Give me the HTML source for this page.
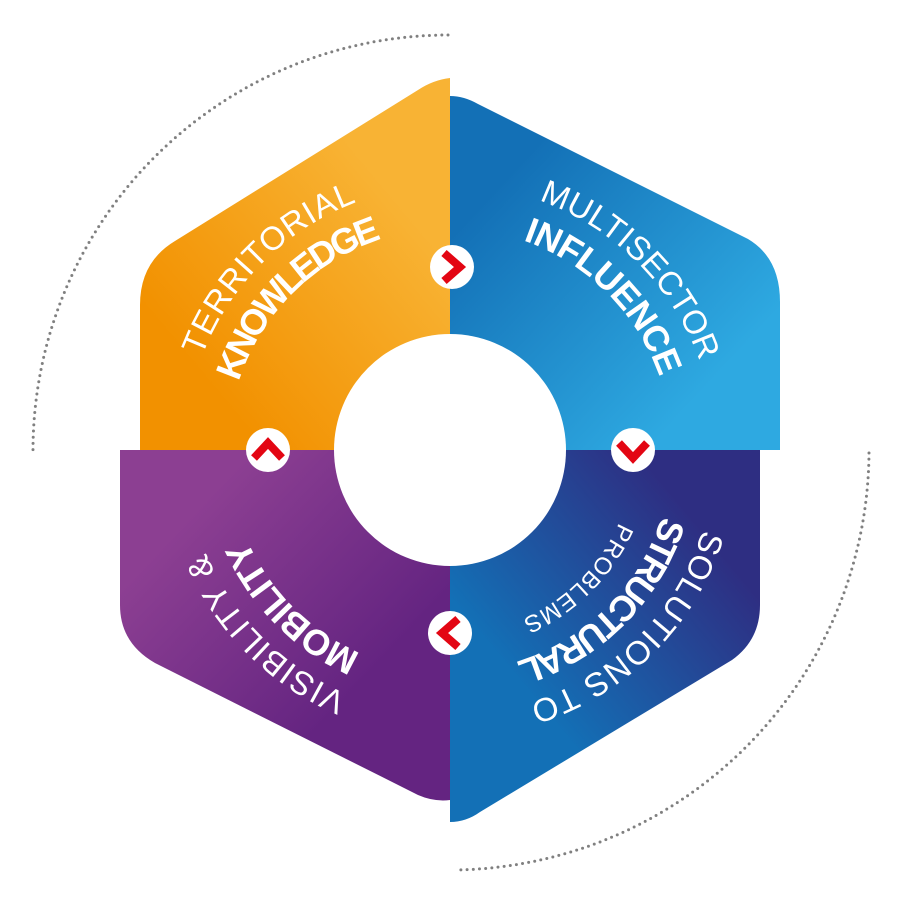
<!DOCTYPE html>
<html><head><meta charset="utf-8"><style>
html,body{margin:0;padding:0;background:#fff;width:900px;height:900px;overflow:hidden}
text{font-family:"Liberation Sans",sans-serif;fill:#fff}
.l{font-size:33px;font-weight:normal}
.b{font-size:36px;font-weight:bold}
.s{font-size:24px}
</style></head><body>
<svg width="900" height="900" viewBox="0 0 900 900" xmlns="http://www.w3.org/2000/svg">
<defs>
<linearGradient id="go" x1="0" y1="1" x2="1" y2="0"><stop offset="0.2" stop-color="#f29100"/><stop offset="0.75" stop-color="#f8b334"/></linearGradient>
<linearGradient id="gb" x1="0" y1="0" x2="1" y2="1"><stop offset="0.2" stop-color="#1370b6"/><stop offset="0.8" stop-color="#2ea9e1"/></linearGradient>
<linearGradient id="gd" x1="0" y1="1" x2="1" y2="0"><stop offset="0.3" stop-color="#1370b6"/><stop offset="0.8" stop-color="#2e2e82"/></linearGradient>
<linearGradient id="gp" x1="0" y1="0" x2="1" y2="1"><stop offset="0.2" stop-color="#8c3f92"/><stop offset="0.7" stop-color="#642481"/></linearGradient>
<path id="a1o" d="M262.6,637.4 A265,265 0 0 1 637.4,262.6"/>
<path id="a1i" d="M293,607 A222,222 0 0 1 607,293"/>
<path id="a2o" d="M262.6,262.6 A265,265 0 0 1 637.4,637.4"/>
<path id="a2i" d="M293,293 A222,222 0 0 1 607,607"/>
<path id="a3o" d="M637.4,262.6 A265,265 0 0 1 262.6,637.4"/>
<path id="a3i" d="M607,293 A222,222 0 0 1 293,607"/>
<path id="a3p" d="M582.9,317.1 A188,188 0 0 1 317.1,582.9"/>
<path id="a4o" d="M637.4,637.4 A265,265 0 0 1 262.6,262.6"/>
<path id="a4i" d="M607,607 A222,222 0 0 1 293,293"/>
</defs>
<g fill="none" stroke="#808080" stroke-width="3" stroke-linecap="round" stroke-dasharray="0 6.2">
<path d="M448,35 A416,416 0 0 0 33,455"/>
<path d="M869,453 A420,420 0 0 1 455,870"/>
</g>
<path d="M450,78 L450,450 L140,450 L140,305 Q140,262 175,241 L418,90 Q433,80 450,78 Z" fill="url(#go)"/>
<path d="M450,96 Q464,96 478,104 L748,239 Q780,258 780,302 L780,450 L450,450 Z" fill="url(#gb)"/>
<path d="M450,450 L760,450 L760,605 Q760,640 732,660 L480,812 Q466,822 450,822 Z" fill="url(#gd)"/>
<path d="M450,450 L120,450 L120,605 Q120,643 155,663 L418,795 Q434,802 450,800 Z" fill="url(#gp)"/>
<circle cx="450" cy="450" r="116" fill="#fff"/>
<text class="l"><textPath href="#a1o" startOffset="50%" text-anchor="middle" textLength="225">TERRITORIAL</textPath></text>
<text class="b"><textPath href="#a1i" startOffset="50%" text-anchor="middle" textLength="210">KNOWLEDGE</textPath></text>
<text class="l"><textPath href="#a2o" startOffset="50%" text-anchor="middle" textLength="235">MULTISECTOR</textPath></text>
<text class="b"><textPath href="#a2i" startOffset="50%" text-anchor="middle" textLength="200">INFLUENCE</textPath></text>
<text class="l"><textPath href="#a3o" startOffset="50%" text-anchor="middle" textLength="255">SOLUTIONS TO</textPath></text>
<text class="b"><textPath href="#a3i" startOffset="50%" text-anchor="middle" textLength="215">STRUCTURAL</textPath></text>
<text class="s"><textPath href="#a3p" startOffset="50%" text-anchor="middle" textLength="140">PROBLEMS</textPath></text>
<text class="l"><textPath href="#a4o" startOffset="50%" text-anchor="middle" textLength="205">VISIBILITY &amp;</textPath></text>
<text class="b"><textPath href="#a4i" startOffset="50%" text-anchor="middle" textLength="165">MOBILITY</textPath></text>
<g fill="#fff"><circle cx="452" cy="267" r="22"/><circle cx="633" cy="450" r="22"/><circle cx="450" cy="633" r="22"/><circle cx="268" cy="450" r="22"/></g>
<g fill="none" stroke="#e30613" stroke-width="8" stroke-linejoin="miter">
<polyline points="444,253 460,267 444,281"/>
<polyline points="619,443 633,458 647,443"/>
<polyline points="458,619 442,633 458,647"/>
<polyline points="254,458 268,443 282,458"/>
</g>
</svg>
</body></html>
